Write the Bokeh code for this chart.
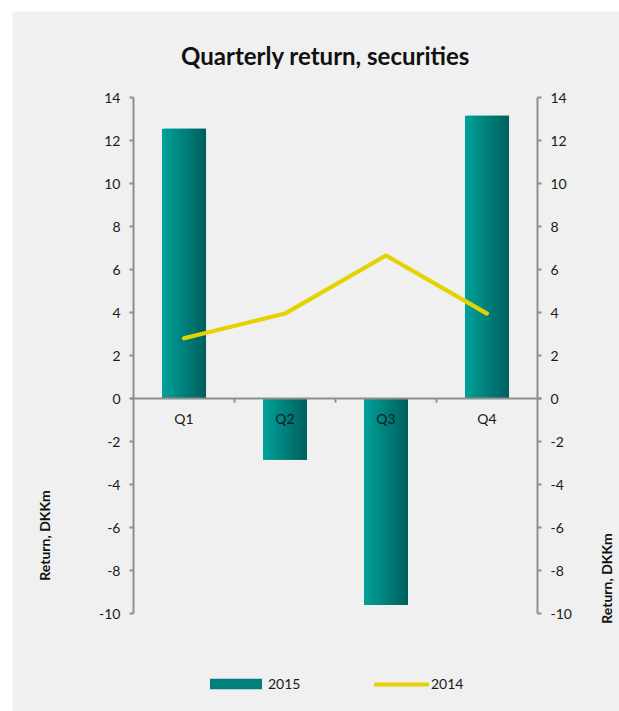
from bokeh.plotting import figure
from bokeh.models import (Range1d, LinearAxis, FixedTicker, Label, Legend,
                          LegendItem, ColumnDataSource)
from bokeh.core.properties import value
from bokeh.embed import file_html
from bokeh.resources import INLINE

# ---- data ----
quarters = ["Q1", "Q2", "Q3", "Q4"]
ret_2015 = [12.55, -2.85, -9.6, 13.15]
ret_2014 = [2.8, 3.95, 6.65, 3.95]
y_ticks = [-10, -8, -6, -4, -2, 0, 2, 4, 6, 8, 10, 12, 14]
series_names = ["2015", "2014"]
title_text = "Quarterly return, securities"
axis_title = "Return, DKKm"

# ---- style ----
FONT = "Lato"
BG = "#eff0ef"
AXIS_GRAY = "#8e8e8e"
TEXT = "#1a1a1a"
TEAL_L = (0, 160, 154)
TEAL_R = (0, 96, 94)
YELLOW = "#e6d200"
BAR_W = 0.436
N_SLICES = 24

def grad_color(t):
    r = round(TEAL_L[0] + (TEAL_R[0] - TEAL_L[0]) * t)
    g = round(TEAL_L[1] + (TEAL_R[1] - TEAL_L[1]) * t)
    b = round(TEAL_L[2] + (TEAL_R[2] - TEAL_L[2]) * t)
    return "#%02x%02x%02x" % (r, g, b)

n_cat = len(quarters)
centers = [i + 0.5 for i in range(n_cat)]

xs, tops, cols, ws = [], [], [], []
step = BAR_W / N_SLICES
for c, v in zip(centers, ret_2015):
    for k in range(N_SLICES):
        left = c - BAR_W / 2 + k * step
        w = step * 2 if k < N_SLICES - 1 else step
        xs.append(left + w / 2)
        ws.append(w)
        tops.append(v)
        cols.append(grad_color(k / (N_SLICES - 1)))
bar_src = ColumnDataSource(dict(x=xs, top=tops, color=cols, w=ws))

# layout: the frame fills the whole canvas; px per unit along x / y
PX_X, PX_Y = 101.0, 21.5
W, H = 607, 700
LEFT_PAD, TOP_PAD = 121, 86          # canvas px to category 0 / to y-top tick
x0 = -LEFT_PAD / PX_X
x1 = x0 + W / PX_X
y1 = y_ticks[-1] + TOP_PAD / PX_Y
y0 = y1 - H / PX_Y

p = figure(width=W, height=H, output_backend="svg", toolbar_location=None,
           x_range=Range1d(x0, x1), y_range=Range1d(y0, y1),
           min_border=0, margin=(11, 0, 0, 12))
p.title.visible = False
p.background_fill_color = BG
p.border_fill_color = BG
p.outline_line_color = None
p.xgrid.visible = False
p.ygrid.visible = False

bars = p.vbar(x="x", top="top", bottom=0, width="w",
              fill_color="color", line_color=None, source=bar_src)
line = p.line(centers, ret_2014, line_color=YELLOW, line_width=4.2,
              line_join="round", line_cap="round")

def style_y(ax, loc):
    ax.fixed_location = loc
    ax.bounds = (y_ticks[0], y_ticks[-1])
    ax.ticker = FixedTicker(ticks=y_ticks)
    ax.major_label_overrides = {t: str(t) for t in y_ticks}
    ax.axis_line_color = AXIS_GRAY
    ax.axis_line_width = 2
    ax.major_tick_line_color = AXIS_GRAY
    ax.major_tick_line_width = 2
    ax.major_tick_in = 0
    ax.major_tick_out = 4
    ax.minor_tick_line_color = None
    ax.major_label_text_font = FONT
    ax.major_label_text_font_size = "14px"
    ax.major_label_text_color = TEXT
    ax.major_label_standoff = 9

style_y(p.yaxis[0], 0)
right_axis = LinearAxis()
style_y(right_axis, n_cat)
p.add_layout(right_axis, "right")

xa = p.xaxis[0]
xa.fixed_location = 0
xa.bounds = (-0.03, n_cat + 0.04)
xa.ticker = FixedTicker(ticks=centers, minor_ticks=list(range(1, n_cat)))
xa.major_label_overrides = {c: q for c, q in zip(centers, quarters)}
xa.axis_line_color = AXIS_GRAY
xa.axis_line_width = 2
xa.major_tick_line_color = None
xa.major_tick_in = 0
xa.major_tick_out = 0
xa.minor_tick_line_color = AXIS_GRAY
xa.minor_tick_line_width = 2
xa.minor_tick_in = 0
xa.minor_tick_out = 4
xa.major_label_text_font = FONT
xa.major_label_text_font_size = "14px"
xa.major_label_text_color = TEXT
xa.major_label_standoff = 7

# title
p.add_layout(Label(x=(325 - 133) / PX_X, y=(398 - 55) / PX_Y, text=title_text,
                   text_font=FONT, text_font_style="bold", text_font_size="24px",
                   text_color="#111111", text_align="center",
                   text_baseline="alphabetic"))
# axis titles
for ax_x, ax_y in [((44 - 133) / PX_X, -(535 - 398) / PX_Y),
                   ((606 - 133) / PX_X, -(578 - 398) / PX_Y)]:
    p.add_layout(Label(x=ax_x, y=ax_y, text=axis_title, angle=1.5708,
                       text_font=FONT, text_font_style="bold", text_font_size="14px",
                       text_color="#111111", text_align="center",
                       text_baseline="middle"))

common = dict(orientation="horizontal", label_width=35,
              label_height=16, padding=0, margin=0, label_text_font=FONT,
              label_text_font_size="14px", label_text_color=TEXT,
              background_fill_alpha=0, border_line_alpha=0)
# bar legend swatch is drawn 10% inset, so enlarge the glyph box
leg_bar = Legend(items=[LegendItem(label=value(series_names[0]), renderers=[bars],
                                   index=N_SLICES // 2)],
                 location=(191, 19), glyph_width=65, glyph_height=13,
                 label_standoff=0, **common)
leg_line = Legend(items=[LegendItem(label=value(series_names[1]), renderers=[line])],
                  location=(362, 19), glyph_width=55, glyph_height=10,
                  label_standoff=2, **common)
p.add_layout(leg_bar)
p.add_layout(leg_line)

open("out.html", "w").write(file_html(p, INLINE))
